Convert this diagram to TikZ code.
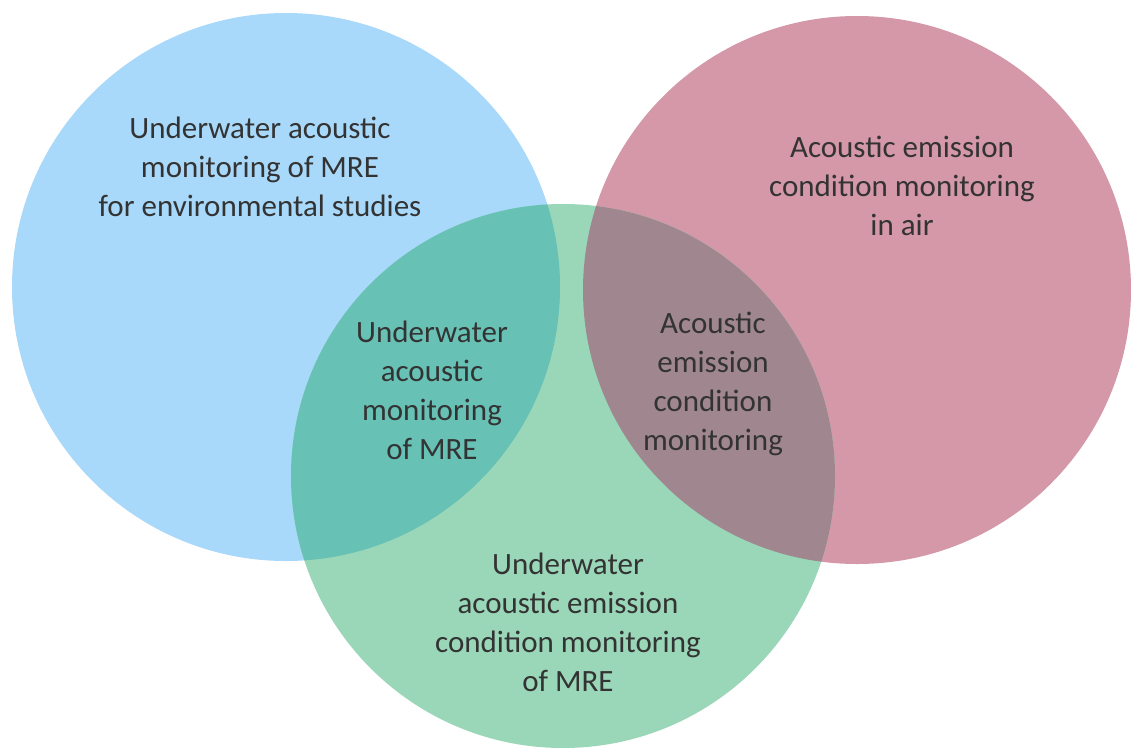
\documentclass[tikz,border=0pt]{standalone}
\usepackage{fontspec}
\setmainfont{Carlito}
\definecolor{cblue}{HTML}{A8D9FA}
\definecolor{cred}{HTML}{D498A9}
\definecolor{cgreen}{HTML}{9AD7B9}
\definecolor{cbg}{HTML}{68C1B5}
\definecolor{crg}{HTML}{A0878F}
\definecolor{ctext}{HTML}{333333}
\begin{document}
\begin{tikzpicture}[x=1pt,y=-1pt,
  lbl/.style={align=center,text=ctext,font=\fontsize{31}{39}\selectfont,inner sep=0pt}]
\useasboundingbox (0,0) rectangle (1131,747);
\fill[white] (0,0) rectangle (1131,747);
\coordinate (cb) at (286,287);
\coordinate (cr) at (857,290);
\coordinate (cg) at (563,476);
\fill[cblue] (cb) circle (274);
\fill[cred] (cr) circle (274);
\fill[cgreen] (cg) circle (272);
\begin{scope}
  \clip (cg) circle (272);
  \fill[cbg] (cb) circle (274);
  \fill[crg] (cr) circle (274);
\end{scope}
\node[lbl] (tb) at (260,167) {Underwater acoustic\\monitoring of MRE\\for environmental studies};
\node[lbl] (tr) at (902,186) {Acoustic emission\\condition monitoring\\in air};
\node[lbl] (tbg) at (432,390) {Underwater\\acoustic\\monitoring\\of MRE};
\node[lbl] (trg) at (713,384) {Acoustic\\emission\\condition\\monitoring};
\node[lbl] (tg) at (568,622) {Underwater\\acoustic emission\\condition monitoring\\of MRE};
\end{tikzpicture}
\end{document}
